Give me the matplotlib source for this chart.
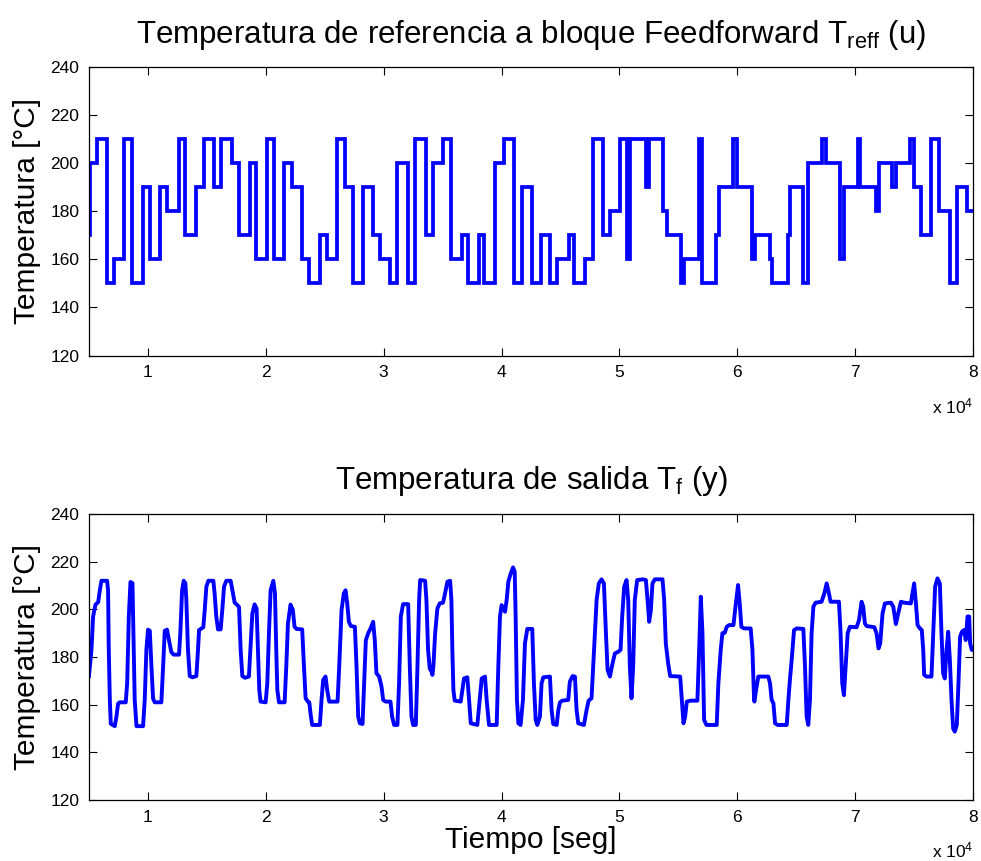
import matplotlib
matplotlib.use("Agg")
import matplotlib.pyplot as plt
import numpy as np

plt.rcParams['font.family'] = ['Liberation Sans', 'DejaVu Sans']
plt.rcParams['mathtext.fontset'] = 'custom'
plt.rcParams['mathtext.rm'] = 'Liberation Sans'
plt.rcParams['mathtext.it'] = 'Liberation Sans'

# Reference temperature steps: switching time [s] and level [°C]
ref_time = [5000, 5100, 5700, 6540, 7100, 8010, 8660, 9590, 10150, 11060,
            11630, 12610, 13180, 14080, 14730, 15580, 16230, 17140, 17700, 18690,
            19190, 20100, 20720, 21570, 22220, 23070, 23680, 24620, 25190, 26030,
            26680, 27440, 28240, 29080, 29700, 30550, 31170, 32100, 32670, 33580,
            34220, 35070, 35720, 36630, 37140, 38090, 38540, 39450, 40210, 41060,
            41710, 42610, 43320, 44110, 44680, 45750, 46170, 47080, 47730, 48580,
            49190, 50040, 50660, 50900, 52250, 52500, 53710, 54000, 55270, 55470,
            56740, 56970, 58240, 58460, 59640, 59980, 61250, 61480, 62750, 62980,
            64310, 64450, 65580, 66000, 67220, 67500, 68690, 69030, 70240, 70440,
            71740, 72020, 73150, 73490, 74680, 75040, 75610, 76460, 77100, 78010,
            78660, 79510, 80000]
ref_temp = [170, 200, 210, 150, 160, 210, 150, 190, 160, 190,
            180, 210, 170, 190, 210, 190, 210, 200, 170, 200,
            160, 210, 160, 200, 190, 160, 150, 170, 160, 210,
            190, 150, 190, 170, 160, 150, 200, 150, 210, 170,
            200, 210, 160, 170, 150, 170, 150, 200, 210, 150,
            190, 150, 170, 150, 160, 170, 150, 160, 210, 170,
            180, 210, 160, 210, 190, 210, 180, 170, 150, 160,
            210, 150, 170, 190, 210, 190, 160, 170, 160, 150,
            170, 190, 150, 200, 210, 200, 160, 190, 210, 190,
            180, 200, 190, 200, 210, 190, 170, 210, 180, 150,
            190, 180, 180]

# Measured outlet temperature
out_time = [5000, 5210, 5350, 5550, 5780, 5920, 6060, 6540, 6620, 6680, 6770, 6850,
            7190, 7330, 7470, 7610, 8120, 8240, 8380, 8520, 8690, 8770, 8880, 9030,
            9590, 9730, 9870, 10010, 10160, 10300, 10440, 10580, 11140, 11290, 11430,
            11620, 11790, 11990, 12190, 12640, 12750, 12900, 13040, 13180, 13260,
            13400, 13550, 13770, 14110, 14250, 14340, 14700, 14820, 14960, 15130,
            15550, 15660, 15800, 15950, 16170, 16310, 16460, 16650, 17020, 17220,
            17360, 17530, 17730, 17870, 18010, 18240, 18570, 18720, 18860, 19050,
            19220, 19340, 19450, 19560, 19990, 20130, 20270, 20410, 20640, 20780,
            20890, 20980, 21120, 21600, 21740, 21880, 22100, 22300, 22440, 22610,
            23090, 23240, 23380, 23570, 23690, 23830, 23940, 24590, 24730, 24870,
            25070, 25210, 25380, 26090, 26230, 26430, 26620, 26770, 26910, 27050,
            27220, 27560, 27700, 27840, 27980, 28210, 28350, 28490, 28690, 28890,
            29110, 29250, 29390, 29620, 29820, 29960, 30160, 30580, 30720, 30890,
            31170, 31310, 31460, 31650, 32080, 32220, 32360, 32500, 32730, 32870,
            33010, 33100, 33520, 33630, 33770, 33910, 34050, 34140, 34220, 34370,
            34560, 34760, 35040, 35210, 35410, 35640, 35750, 35830, 35920, 36030,
            36540, 36680, 36820, 37100, 37250, 37390, 37950, 38150, 38320, 38600,
            38740, 38940, 39590, 39730, 39870, 40010, 40160, 40300, 40440, 40580,
            40780, 40980, 41120, 41200, 41310, 41430, 41620, 41820, 41990, 42190,
            42610, 42750, 42900, 43040, 43260, 43400, 43550, 44110, 44250, 44390,
            44680, 44820, 44960, 45160, 45660, 45800, 46030, 46230, 46370, 46510,
            46990, 47220, 47390, 47640, 47780, 47920, 48070, 48260, 48490, 48690,
            48860, 49000, 49200, 49420, 49620, 49900, 50100, 50240, 50410, 50610,
            50750, 50890, 51030, 51170, 51310, 51510, 52020, 52250, 52390, 52530,
            52670, 52810, 53010, 53660, 53800, 53940, 54140, 54310, 55160, 55300,
            55440, 55580, 55720, 56060, 56620, 56770, 56910, 57050, 57190, 57390,
            58260, 58400, 58600, 58740, 58940, 59110, 59310, 59680, 59820, 60070,
            60210, 60350, 60580, 61140, 61290, 61430, 61460, 61600, 61790, 62640,
            62780, 62920, 63070, 63210, 63430, 64200, 64340, 64480, 64620, 64820,
            65040, 65610, 65750, 65890, 66030, 66170, 66310, 66460, 66650, 67160,
            67390, 67590, 67780, 67920, 68630, 68770, 68910, 69050, 69200, 69370,
            69560, 70130, 70330, 70550, 70690, 70830, 70980, 71630, 71820, 71990,
            72130, 72330, 72530, 73040, 73240, 73460, 73660, 73890, 74170, 74730,
            74870, 75010, 75160, 75300, 75500, 75660, 75780, 75860, 76060, 76480,
            76630, 76790, 76990, 77190, 77330, 77470, 77610, 77760, 77900, 78040,
            78180, 78320, 78460, 78630, 78770, 78910, 79060, 79250, 79390, 79540,
            79680, 79760, 79900, 80000]
out_temp = [172, 183, 197, 202, 203, 208, 212, 212, 208, 183, 162, 152,
            151, 155, 160.5, 161, 161, 169, 197, 211.5, 211, 190, 162, 151,
            151, 162, 183, 191.5, 191, 176, 162.5, 161, 161, 176, 191,
            191.5, 187, 182, 181, 181, 190, 208, 212, 211, 204,
            183, 172, 171.5, 172, 183, 191.3, 192.5, 199.7, 209.5, 212,
            212, 206.7, 197, 191.6, 191.6, 199.7, 209.5, 212, 212, 206.7,
            202.8, 202.1, 201, 183, 172, 171.3, 171.8, 185.7, 198.3, 202.1,
            200.4, 183, 166.2, 161.3, 161, 169, 190, 208, 212, 206.7,
            183, 166.2, 161, 161, 176, 194, 202, 199.7, 192.7, 191.8,
            191.6, 176, 162.7, 161.3, 161, 155, 151.5, 151.5, 162, 170.4,
            171.8, 166.2, 161.3, 161.3, 176, 199.7, 206.7, 208, 202.5, 194.8,
            193, 192.7, 176, 155, 152.2, 151.9, 169, 187, 190, 192,
            194.8, 187, 173.2, 171.8, 167.6, 162, 161.3, 161.3, 155, 151.5,
            151.5, 169, 197, 202.2, 202.2, 176, 155, 151.5, 151.5, 176,
            204, 212.3, 212, 204, 183, 175.2, 174, 172.5, 176, 190,
            200.4, 202.5, 202.8, 206.7, 211.6, 212, 204, 183, 166.2, 161.7,
            161.3, 166.2, 171, 171.5, 162, 152.2, 151.5, 162, 171, 171.8,
            162, 151.5, 151.5, 176, 197, 201.8, 200.4, 199, 204, 211.6,
            215, 217.6, 215.8, 197, 162, 152.2, 151.5, 162, 185.7, 191.8,
            191.8, 169, 153.6, 151.5, 155, 169, 171.5, 171.8, 157.8, 151.9,
            151.5, 157.8, 161, 161.7, 162, 169.7, 172, 171.8, 157.8, 152.2,
            151.5, 157.8, 161.7, 162.7, 176, 190, 204, 210.9, 212.6, 210.9,
            190, 174.6, 171.8, 177.3, 181.5, 182.2, 183, 197, 209.5, 212.3,
            204, 176, 162.7, 176, 204, 212.3, 212.6, 212.3, 204, 194.8,
            199.6, 210.9, 212.6, 212.6, 204, 185.7, 177.3, 172, 171.8, 162,
            152.2, 155, 161.3, 161.7, 161.7, 183, 205.3, 190, 153.6, 151.5,
            151.5, 169, 183, 190, 190.2, 192.7, 193.4, 193.4, 199.7, 210.2,
            202.5, 192.7, 192, 192, 183, 162, 161.3, 166.2, 171.8, 171.8,
            169, 162, 160.6, 152.2, 151.5, 151.5, 162, 171, 178.8, 191.3,
            192, 191.8, 176, 155, 151.5, 162, 190, 201.1, 202.8, 203.2,
            206.7, 210.9, 206.7, 203.2, 203.2, 190, 169, 164, 176, 190,
            192.7, 192.5, 195.5, 203.2, 201.1, 194.1, 193, 192.5, 190, 183.6,
            185.7, 198.3, 202.5, 202.8, 201.1, 193.8, 198.3, 203.2, 202.8, 202.5,
            206.7, 210.9, 202.5, 193.4, 192, 191.3, 183, 172.5, 171.8, 171.8,
            190, 209.5, 213, 210.9, 190, 173.2, 171, 183, 190.6, 178.8,
            162, 150, 148.7, 151.5, 169, 188.5, 190.6, 191.3, 187.1, 197,
            197, 185.7, 183, 183]

x_ticks = [10000, 20000, 30000, 40000, 50000, 60000, 70000, 80000]
x_tick_labels = ['1', '2', '3', '4', '5', '6', '7', '8']
y_ticks = [120, 140, 160, 180, 200, 220, 240]

fig = plt.figure(figsize=(9.81, 8.61), dpi=100)
ax1 = fig.add_axes([0.0907, 0.5871, 0.9011, 0.3351])
ax2 = fig.add_axes([0.0907, 0.0708, 0.9011, 0.3322])

ax1.step(ref_time, ref_temp, where='post', color='#0000ff', lw=2.7,
         solid_joinstyle='miter')
ax2.plot(out_time, out_temp, color='#0000ff', lw=2.8, solid_joinstyle='round')

for ax in (ax1, ax2):
    ax.set_xlim(5000, 80000)
    ax.set_ylim(120, 240)
    ax.set_xticks(x_ticks)
    ax.set_xticklabels(x_tick_labels)
    ax.set_yticks(y_ticks)
    ax.tick_params(direction='in', length=5.5, width=0.8, top=True, right=True,
                   labelsize=12.5, pad=7, colors='black')
    ax.set_ylabel('Temperatura [°C]', fontsize=21.5, labelpad=7)
    for s in ax.spines.values():
        s.set_linewidth(0.9)
    ax.text(1.0, -0.175, r'x 10$^{\mathregular{4}}$', transform=ax.transAxes,
            ha='right', va='center', fontsize=12.5)

ax1.set_title(r'Temperatura de referencia a bloque Feedforward T$_{\mathregular{reff}}$ (u)',
              fontsize=22.5, pad=17)
ax2.set_title(r'Temperatura de salida T$_{\mathregular{f}}$ (y)', fontsize=22.5, pad=18)
ax2.set_xlabel('Tiempo [seg]', fontsize=21.5, labelpad=1)

fig.savefig('out.png', dpi=100)
